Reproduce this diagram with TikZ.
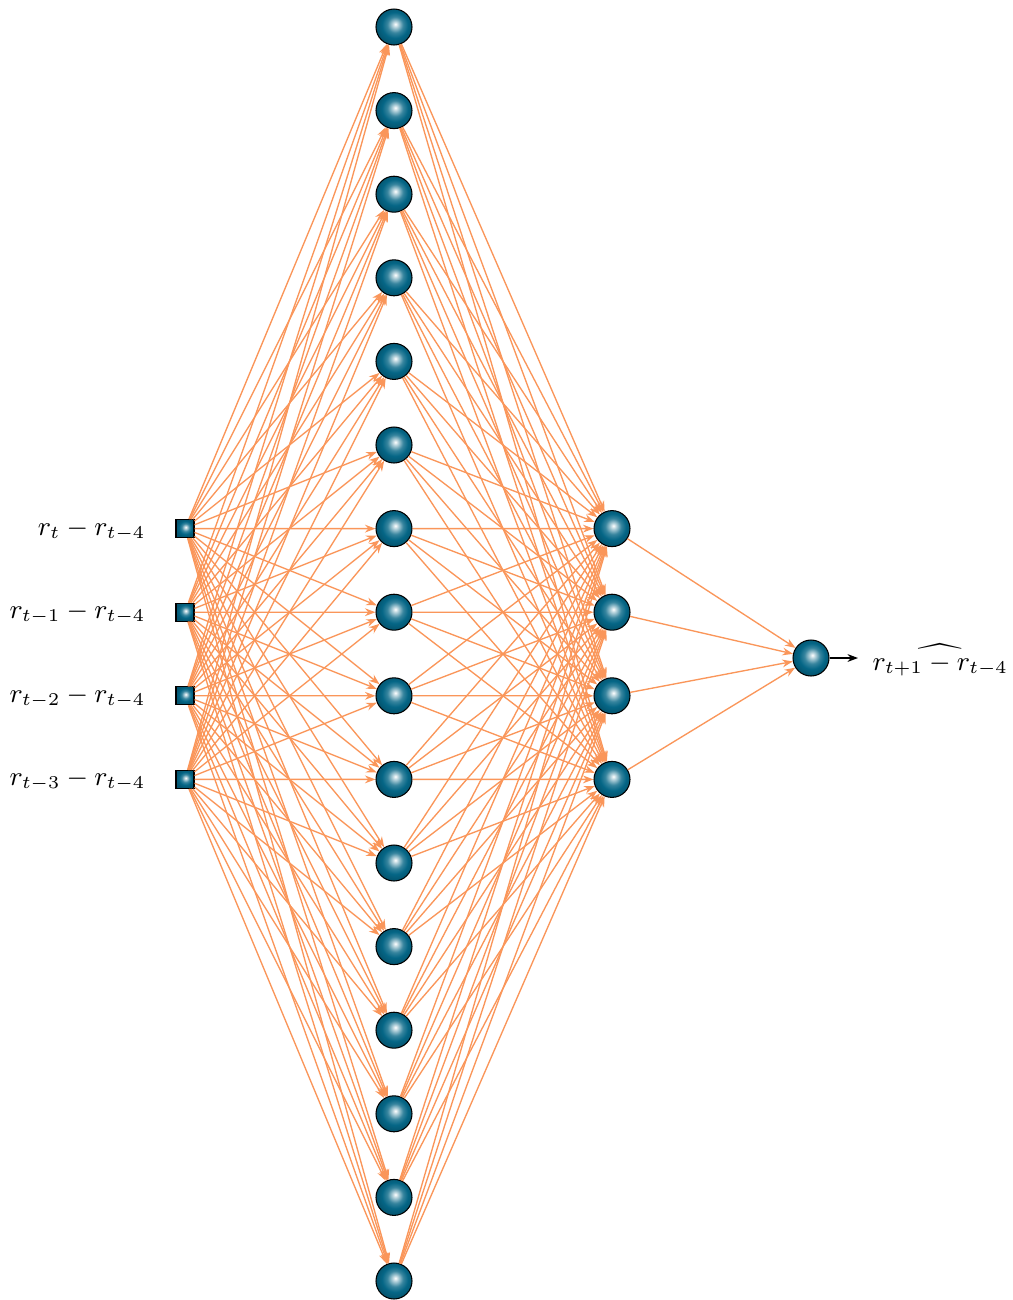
\documentclass[tikz,border=0pt]{standalone}
\usetikzlibrary{arrows.meta}
\definecolor{ballc}{RGB}{5,102,134}
\definecolor{edgec}{RGB}{250,150,90}
\pgfdeclareradialshading{myball}{\pgfpoint{2bp}{4bp}}{color(0bp)=(white); color(4bp)=(ballc!30!white); color(11bp)=(ballc!80!white); color(18bp)=(ballc); color(25bp)=(ballc!85!black); color(50bp)=(ballc!70!black)}
\begin{document}
\begin{tikzpicture}[x=0.3333pt,y=-0.3333pt,
  neuron/.style={circle,draw=black,line width=0.35pt,shading=myball,minimum size=12pt,inner sep=0pt},
  inp/.style={rectangle,draw=black,line width=0.35pt,shading=myball,minimum size=6pt,inner sep=0pt},
  conn/.style={-{Stealth[length=3.5pt,width=2.6pt]},draw=edgec,line width=0.45pt},
  outconn/.style={-{Stealth[length=3.5pt,width=2.6pt]},draw=black,line width=0.45pt},
  lab/.style={inner sep=0pt,font=\fontsize{9.2}{11}\selectfont}]
\useasboundingbox (0,0) rectangle (1012,1300);
\foreach \i in {0,...,15} \node[neuron] (h\i) at (394,{27+83.6*\i}) {};
\foreach \i in {0,...,3} {
  \node[inp] (x\i) at (185,{528.6+83.6*\i}) {};
  \node[neuron] (g\i) at (612,{528.6+83.6*\i}) {};
}
\node[neuron] (o) at (811,658) {};
\coordinate (oe) at (858,658);
\node[lab,anchor=east] (l0) at (146,530) {$r_t-r_{t-4}$};
\node[lab,anchor=east] (l1) at (146,613) {$r_{t-1}-r_{t-4}$};
\node[lab,anchor=east] (l2) at (146,697) {$r_{t-2}-r_{t-4}$};
\node[lab,anchor=east] (l3) at (146,780) {$r_{t-3}-r_{t-4}$};
\node[lab,anchor=west] (lo) at (872,660) {$\widehat{r_{t+1}-r_{t-4}}$};
\foreach \i in {0,...,3} \foreach \j in {0,...,15} \draw[conn] (x\i) -- (h\j);
\foreach \j in {0,...,15} \foreach \k in {0,...,3} \draw[conn] (h\j) -- (g\k);
\foreach \k in {0,...,3} \draw[conn] (g\k) -- (o);
\draw[outconn] (o) -- (oe);
\end{tikzpicture}
\end{document}
